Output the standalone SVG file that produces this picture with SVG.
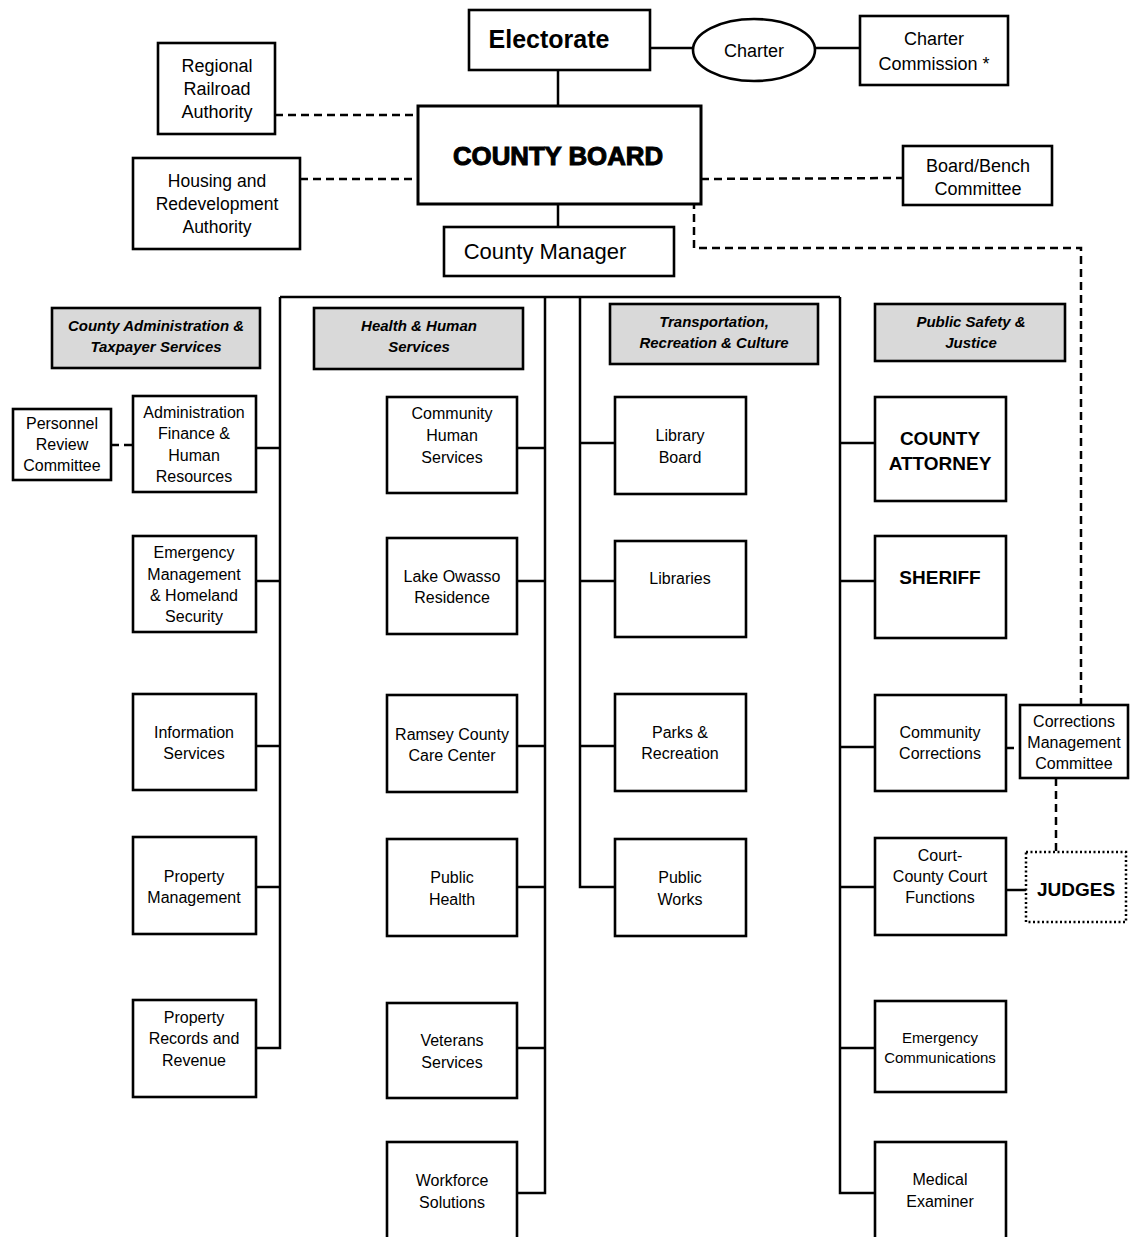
<svg xmlns="http://www.w3.org/2000/svg" width="1131" height="1237" viewBox="0 0 1131 1237">
<style>
.box{fill:#fff;stroke:#000;stroke-width:2.6}
.hdr{fill:#d9d9d9;stroke:#000;stroke-width:2.6}
.t{font-family:"Liberation Sans",Arial,sans-serif;font-size:16px;text-anchor:middle;fill:#000}
.t18{font-size:18px}
.hb{font-weight:bold;font-style:italic;font-size:15px}
.bb{font-weight:bold;font-size:19px}
.ln{stroke:#000;stroke-width:2.5;fill:none}
.dash{stroke-dasharray:8 5}
</style>
<rect width="1131" height="1237" fill="#fff"/>
<g id="connectors">
<line class="ln" x1="558" y1="70" x2="558" y2="106"/>
<line class="ln" x1="651" y1="48" x2="693" y2="48"/>
<line class="ln" x1="815" y1="48" x2="860" y2="48"/>
<line class="ln" x1="558" y1="204" x2="558" y2="227"/>
<line class="ln dash" x1="275" y1="115" x2="418" y2="115"/>
<line class="ln dash" x1="300" y1="179" x2="418" y2="179"/>
<line class="ln dash" x1="701" y1="179" x2="903" y2="178"/>
<polyline class="ln dash" points="694,201 694,248 1081,248 1081,705"/>
<line class="ln" x1="280" y1="297" x2="840" y2="297"/>
<polyline class="ln" points="280,297 280,1048 256,1048"/>
<line class="ln" x1="256" y1="448" x2="280" y2="448"/>
<line class="ln" x1="256" y1="581" x2="280" y2="581"/>
<line class="ln" x1="256" y1="746" x2="280" y2="746"/>
<line class="ln" x1="256" y1="887" x2="280" y2="887"/>
<line class="ln dash" x1="111" y1="445" x2="133" y2="445"/>
<polyline class="ln" points="545,297 545,1193 517,1193"/>
<line class="ln" x1="517" y1="448" x2="545" y2="448"/>
<line class="ln" x1="517" y1="581" x2="545" y2="581"/>
<line class="ln" x1="517" y1="746" x2="545" y2="746"/>
<line class="ln" x1="517" y1="887" x2="545" y2="887"/>
<line class="ln" x1="517" y1="1048" x2="545" y2="1048"/>
<polyline class="ln" points="580,297 580,887 615,887"/>
<line class="ln" x1="580" y1="443" x2="615" y2="443"/>
<line class="ln" x1="580" y1="581" x2="615" y2="581"/>
<line class="ln" x1="580" y1="746" x2="615" y2="746"/>
<polyline class="ln" points="840,297 840,1193 875,1193"/>
<line class="ln" x1="840" y1="443" x2="875" y2="443"/>
<line class="ln" x1="840" y1="581" x2="875" y2="581"/>
<line class="ln" x1="840" y1="747" x2="875" y2="747"/>
<line class="ln" x1="840" y1="887" x2="875" y2="887"/>
<line class="ln" x1="840" y1="1048" x2="875" y2="1048"/>
<line class="ln dash" x1="1006" y1="748" x2="1020" y2="748"/>
<line class="ln dash" x1="1056" y1="778" x2="1056" y2="852"/>
<line class="ln" x1="1006" y1="890" x2="1026" y2="890"/>
</g>
<g id="electorate"><rect class="box" x="469" y="10" width="181" height="60"/><text class="t" x="549" y="48" style="font-size:25px;font-weight:bold">Electorate</text></g>
<g id="charter"><ellipse class="box" cx="754" cy="50" rx="61" ry="31"/><text class="t t18" x="754" y="57">Charter</text></g>
<g id="charter-commission"><rect class="box" x="860" y="16" width="148" height="69"/><text class="t t18" x="934" y="45">Charter</text><text class="t t18" x="934" y="70">Commission *</text></g>
<g id="railroad"><rect class="box" x="158" y="43" width="117" height="91"/><text class="t t18" x="217" y="72">Regional</text><text class="t t18" x="217" y="95">Railroad</text><text class="t t18" x="217" y="118">Authority</text></g>
<g id="housing"><rect class="box" x="133" y="158" width="167" height="91"/><text class="t" style="font-size:17.5px" x="217" y="187">Housing and</text><text class="t" style="font-size:17.5px" x="217" y="210">Redevelopment</text><text class="t" style="font-size:17.5px" x="217" y="233">Authority</text></g>
<g id="county-board"><rect class="box" x="418" y="106" width="283" height="98" style="stroke-width:3"/><text class="t" x="558" y="165" style="font-size:25px;font-weight:bold;stroke:#000;stroke-width:1" textLength="210" lengthAdjust="spacingAndGlyphs">COUNTY BOARD</text></g>
<g id="board-bench"><rect class="box" x="903" y="146" width="149" height="59"/><text class="t t18" x="978" y="172">Board/Bench</text><text class="t t18" x="978" y="195">Committee</text></g>
<g id="county-manager"><rect class="box" x="444" y="227" width="230" height="49"/><text class="t" x="545" y="259" style="font-size:22px">County Manager</text></g>
<g id="hdr-admin"><rect class="hdr" x="52" y="308" width="208" height="60"/><text class="t hb" x="156" y="331">County Administration &amp;</text><text class="t hb" x="156" y="352">Taxpayer Services</text></g>
<g id="hdr-health"><rect class="hdr" x="314" y="308" width="209" height="61"/><text class="t hb" x="419" y="331">Health &amp; Human</text><text class="t hb" x="419" y="352">Services</text></g>
<g id="hdr-transport"><rect class="hdr" x="610" y="304" width="208" height="60"/><text class="t hb" x="714" y="327">Transportation,</text><text class="t hb" x="714" y="348">Recreation &amp; Culture</text></g>
<g id="hdr-safety"><rect class="hdr" x="875" y="304" width="190" height="57"/><text class="t hb" x="971" y="327">Public Safety &amp;</text><text class="t hb" x="971" y="348">Justice</text></g>
<g id="personnel"><rect class="box" x="13" y="409" width="98" height="71"/><text class="t" x="62" y="429">Personnel</text><text class="t" x="62" y="450">Review</text><text class="t" x="62" y="471">Committee</text></g>
<g id="admin-finance"><rect class="box" x="133" y="396" width="123" height="96"/><text class="t" x="194" y="418">Administration</text><text class="t" x="194" y="439">Finance &amp;</text><text class="t" x="194" y="461">Human</text><text class="t" x="194" y="482">Resources</text></g>
<g id="emergency-mgmt"><rect class="box" x="133" y="536" width="123" height="96"/><text class="t" x="194" y="558">Emergency</text><text class="t" x="194" y="580">Management</text><text class="t" x="194" y="601">&amp; Homeland</text><text class="t" x="194" y="622">Security</text></g>
<g id="info-services"><rect class="box" x="133" y="694" width="123" height="96"/><text class="t" x="194" y="738">Information</text><text class="t" x="194" y="759">Services</text></g>
<g id="property-mgmt"><rect class="box" x="133" y="837" width="123" height="97"/><text class="t" x="194" y="882">Property</text><text class="t" x="194" y="903">Management</text></g>
<g id="property-records"><rect class="box" x="133" y="1000" width="123" height="97"/><text class="t" x="194" y="1023">Property</text><text class="t" x="194" y="1044">Records and</text><text class="t" x="194" y="1066">Revenue</text></g>
<g id="community-human"><rect class="box" x="387" y="397" width="130" height="96"/><text class="t" x="452" y="419">Community</text><text class="t" x="452" y="441">Human</text><text class="t" x="452" y="463">Services</text></g>
<g id="lake-owasso"><rect class="box" x="387" y="538" width="130" height="96"/><text class="t" x="452" y="582">Lake Owasso</text><text class="t" x="452" y="603">Residence</text></g>
<g id="care-center"><rect class="box" x="387" y="695" width="130" height="97"/><text class="t" x="452" y="740">Ramsey County</text><text class="t" x="452" y="761">Care Center</text></g>
<g id="public-health"><rect class="box" x="387" y="839" width="130" height="97"/><text class="t" x="452" y="883">Public</text><text class="t" x="452" y="905">Health</text></g>
<g id="veterans"><rect class="box" x="387" y="1003" width="130" height="95"/><text class="t" x="452" y="1046">Veterans</text><text class="t" x="452" y="1068">Services</text></g>
<g id="workforce"><rect class="box" x="387" y="1142" width="130" height="100"/><text class="t" x="452" y="1186">Workforce</text><text class="t" x="452" y="1208">Solutions</text></g>
<g id="library-board"><rect class="box" x="615" y="397" width="131" height="97"/><text class="t" x="680" y="441">Library</text><text class="t" x="680" y="463">Board</text></g>
<g id="libraries"><rect class="box" x="615" y="541" width="131" height="96"/><text class="t" x="680" y="584">Libraries</text></g>
<g id="parks"><rect class="box" x="615" y="694" width="131" height="97"/><text class="t" x="680" y="738">Parks &amp;</text><text class="t" x="680" y="759">Recreation</text></g>
<g id="public-works"><rect class="box" x="615" y="839" width="131" height="97"/><text class="t" x="680" y="883">Public</text><text class="t" x="680" y="905">Works</text></g>
<g id="county-attorney"><rect class="box" x="875" y="397" width="131" height="104"/><text class="t bb" x="940" y="445">COUNTY</text><text class="t bb" x="940" y="470">ATTORNEY</text></g>
<g id="sheriff"><rect class="box" x="875" y="536" width="131" height="102"/><text class="t bb" x="940" y="584">SHERIFF</text></g>
<g id="community-corrections"><rect class="box" x="875" y="695" width="131" height="96"/><text class="t" x="940" y="738">Community</text><text class="t" x="940" y="759">Corrections</text></g>
<g id="corrections-mgmt"><rect class="box" x="1020" y="705" width="108" height="73"/><text class="t" x="1074" y="727">Corrections</text><text class="t" x="1074" y="748">Management</text><text class="t" x="1074" y="769">Committee</text></g>
<g id="court-functions"><rect class="box" x="875" y="838" width="131" height="97"/><text class="t" x="940" y="861">Court-</text><text class="t" x="940" y="882">County Court</text><text class="t" x="940" y="903">Functions</text></g>
<g id="judges"><rect x="1026" y="852" width="100" height="70" fill="#fff" stroke="#000" stroke-width="2.5" stroke-dasharray="2 2.5"/><text class="t bb" x="1076" y="896">JUDGES</text></g>
<g id="emergency-comm"><rect class="box" x="875" y="1001" width="131" height="91"/><text class="t" style="font-size:15px" x="940" y="1043">Emergency</text><text class="t" style="font-size:15px" x="940" y="1063">Communications</text></g>
<g id="medical-examiner"><rect class="box" x="875" y="1142" width="131" height="100"/><text class="t" x="940" y="1185">Medical</text><text class="t" x="940" y="1207">Examiner</text></g>
</svg>
